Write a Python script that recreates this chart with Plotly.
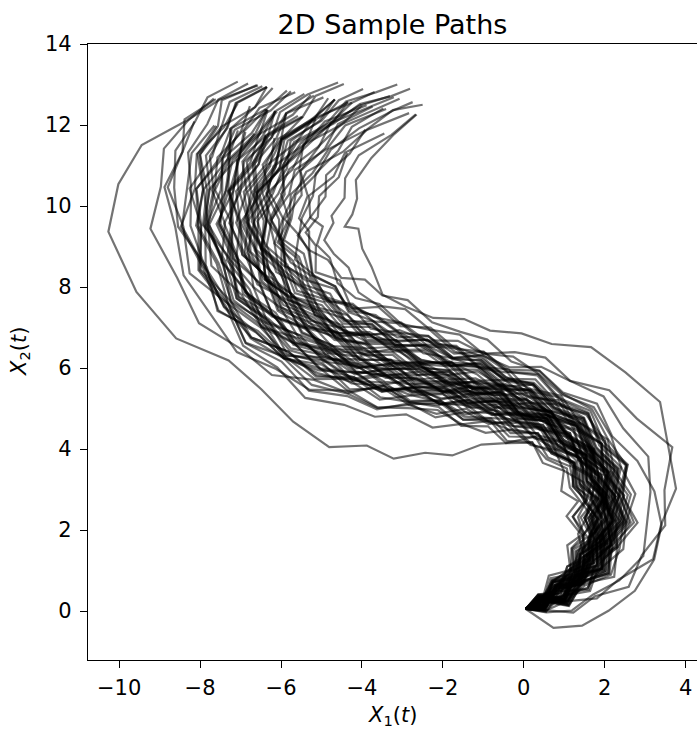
import plotly.graph_objects as go

# Mean route of the sample paths, with a lateral spread vector per station
center_x = [0.05, 0.45, 0.9, 1.35, 1.7, 1.95, 2.05, 2.05, 1.9, 1.6, 1.15, 0.6, 0.0, -0.6, -1.25, -1.9,
            -2.6, -3.3, -4.0, -4.7, -5.35, -5.95, -6.45, -6.8, -6.95, -6.9, -6.65, -6.25, -5.7, -5.05, -4.4, -3.75]
center_y = [0.05, 0.2, 0.45, 0.8, 1.2, 1.7, 2.25, 2.8, 3.35, 3.9, 4.4, 4.8, 5.1, 5.35, 5.55, 5.75,
            5.95, 6.15, 6.35, 6.65, 7.05, 7.55, 8.15, 8.85, 9.6, 10.35, 11.05, 11.7, 12.25, 12.7, 13.0, 13.2]
spread_x = [-0.35, -0.63, -0.83, -0.99, -1.16, -1.27, -1.29, -1.24, -1.12, -0.94, -0.74, -0.55, -0.42, -0.34, -0.29, -0.28,
            -0.27, -0.27, -0.33, -0.45, -0.58, -0.7, -0.83, -0.94, -0.99, -1.0, -0.98, -0.97, -0.98, -0.98, -0.95, -0.93]
spread_y = [0.94, 1.37, 1.25, 1.06, 0.78, 0.43, 0.12, -0.16, -0.44, -0.67, -0.81, -0.89, -0.91, -0.94, -0.96, -0.96,
            -0.96, -0.96, -0.94, -0.89, -0.81, -0.71, -0.55, -0.33, -0.07, 0.06, 0.16, 0.2, 0.2, 0.18, 0.25, 0.3]

# Lateral offset of each sample path at each station
path01 = [0, -0.05, 0.12, 0.18, 0.3, 0.36, 0.55, 0.4, 0.46, 0.3, 0.38, 0.55, 1.05, 1.32, 1.78, 1.92, 2.28, 2.15, 2.45, 2.22, 1.95, 1.92, 2.58, 2.95, 3.35, 3.12, 2.85, 2.12, 1.86, 1.55]
path02 = [0, -0.14, -0.17, -0.46, -0.55, -0.98, -1.04, -1.38, -1.5, -1.88, -1.84, -1.93, -1.64, -1.6, -1.43, -1.52, -1.34, -1.42, -1.55, -2.08, -2.34, -2.66, -2.44, -2.68, -2.74, -2.78, -2.55, -2.56, -2.52, -2.45]
path03 = [0, 0.09, 0.05, 0.21, 0.12, 0.28, 0.18, 0.45, 0.38, 0.65, 0.52, 0.79, 0.68, 1.01, 0.97, 1.27, 1.14, 1.41, 1.34, 1.56, 1.28, 1.41, 1.11, 1.32, 1.1, 1.2, 0.81, 0.92, 0.56, 0.72]
path04 = [0, -0.11, -0.07, -0.22, -0.18, -0.4, -0.37, -0.57, -0.45, -0.6, -0.78, -0.61, -0.84, -0.99, -0.84, -1.12, -1.04, -1.36, -1.26, -1.37, -1.76, -1.79, -1.83, -2.23, -2.22, -2.47, -2.28, -2.24, -2.48, -2.43]
path05 = [0, 0.04, 0.09, -0.02, 0.07, 0.16, 0.01, 0.08, 0.25, 0.08, 0.25, 0.12, 0.37, 0.3, 0.12, 0.33, 0.22, 0.38, 0.12, 0.11, 0.21, -0.09, 0.02, -0.2, -0.02, -0.24, -0.49, -0.29, -0.58]
path06 = [0, -0.09, -0.04, -0.01, -0.19, -0.1, -0.07, -0.24, -0.18, -0.05, -0.26, -0.1, -0.14, -0.25, 0.03, 0.11, -0.02, 0.18, 0.28, 0.15, 0.3, 0.61, 0.48, 0.69, 0.91, 0.77, 1.13, 1.13, 1.43, 1.32]
path07 = [0, 0.01, 0.15, 0.09, 0.27, 0.22, 0.41, 0.23, 0.39, 0.21, 0.42, 0.24, 0.44, 0.28, 0.48, 0.41, 0.65, 0.6, 0.78, 0.64, 1.0, 0.95, 1.32, 1.19, 1.54, 1.23, 1.46, 1.2, 1.4]
path08 = [0, 0.05, -0.16, -0.1, -0.27, -0.14, -0.26, -0.42, -0.23, -0.44, -0.54, -0.36, -0.59, -0.39, -0.58, -0.32, -0.26, -0.45, -0.27, -0.05, -0.19, 0.08, -0.15, 0.16, 0.31, 0.28, 0.41, 0.65]
path09 = [0, 0.1, -0.06, -0.02, 0.11, -0.09, 0.05, -0.16, 0.03, -0.07, -0.27, -0.1, -0.23, -0.16, -0.48, -0.51, -0.43, -0.75, -0.66, -0.97, -0.8, -0.96, -1.22, -0.93, -1.22, -1.26, -1.57, -1.53, -1.66, -1.87, -1.74]
path10 = [0, 0.07, 0.16, 0.01, 0.1, 0.26, 0.07, 0.29, 0.31, 0.21, 0.5, 0.58, 0.41, 0.62, 0.78, 0.61, 0.65, 0.97, 0.74, 0.87, 0.95, 0.65, 0.87, 0.7, 0.83, 0.46, 0.56, 0.31, 0.41]
path11 = [0, -0.06, 0.05, -0.1, -0.01, -0.16, 0, -0.12, 0.11, -0.07, 0.15, 0, 0.26, 0.17, 0.42, 0.23, 0.45, 0.27, 0.66, 0.51, 0.76, 0.6, 0.93, 0.79, 1.12, 1.03, 1.44, 1.39]
path12 = [0, -0.03, 0.22, 0.22, 0.18, 0.48, 0.39, 0.33, 0.56, 0.37, 0.52, 0.29, 0.47, 0.49, 0.21, 0.35, 0.38, 0.11, 0.23, -0.1, 0, 0.06, -0.27, -0.32, -0.28, -0.7, -0.71, -0.94, -0.97, -1.31, -1.25]
path13 = [0, -0.17, -0.35, -0.37, -0.57, -0.79, -0.77, -0.87, -1.05, -0.91, -1.11, -0.99, -1.27, -1.11, -0.84, -0.96, -0.76, -0.82, -0.48, -0.6, -0.84, -0.66, -0.9, -0.68, -1.0, -1.23, -1.3, -1.83, -1.86, -2.26]
path14 = [0, 0.08, 0.01, -0.02, 0.15, 0.04, 0, 0.14, 0.04, -0.12, 0.06, -0.13, -0.13, -0.03, -0.31, -0.39, -0.21, -0.42, -0.57, -0.24, -0.17, -0.28, -0.05, -0.04, 0.1, 0.37, 0.41, 0.69, 0.69]
path15 = [0, -0.09, 0.08, -0.09, 0.07, -0.16, 0.01, -0.18, 0.05, -0.09, 0.12, -0.11, 0.06, -0.07, 0.25, 0.07, 0.29, 0.05, 0.36, 0.43, 0.93, 0.89, 1.35, 1.1, 1.61, 1.74, 2.0, 1.93, 2.16, 2.06]
path16 = [0, 0.15, 0.03, 0, 0.26, 0.11, 0.3, 0.06, 0.22, 0.27, 0.01, 0.15, 0.25, -0.04, 0.08, -0.21, -0.05, 0.01, -0.32, -0.38, -0.33, -0.62, -0.48, -0.68, -0.66, -0.94, -0.73, -0.76, -0.88, -0.67, -0.78, -0.67]
path17 = [0, -0.15, -0.06, -0.29, -0.12, -0.24, -0.46, -0.26, -0.36, -0.21, -0.46, -0.4, -0.24, -0.57, -0.47, -0.78, -0.61, -0.77, -1.02, -0.86, -1.19, -1.03, -1.36, -1.33, -1.48, -1.69, -1.54, -1.71, -1.48, -1.61]
path18 = [0, 0.04, 0.22, 0.05, 0.26, 0.27, 0.16, 0.46, 0.54, 0.38, 0.59, 0.76, 0.59, 0.7, 0.98, 0.82, 0.98, 1.17, 0.97, 1.33, 1.33, 1.63, 1.53, 1.71, 1.68, 1.98, 1.82, 1.95]
path19 = [0, -0.1, 0.08, -0.12, 0.1, -0.05, 0.14, -0.04, 0.18, 0.07, 0.4, 0.23, 0.47, 0.17, 0.37, 0.09, 0.35, -0.06, 0.16, -0.25, -0.07, -0.35, -0.2, -0.43, -0.37, -0.83, -0.87, -1.2, -1.2, -1.5, -1.4]
path20 = [0, -0.09, 0.03, -0.23, -0.08, -0.06, -0.32, -0.23, -0.15, -0.43, -0.31, -0.58, -0.42, -0.45, -0.76, -0.8, -0.74, -1.01, -0.96, -1.01, -0.85, -1.01, -0.83, -0.81, -0.91, -0.54, -0.52, -0.26, -0.24, 0.1, 0.05]
path21 = [0, 0.06, -0.09, 0.15, 0.07, 0.25, 0.03, 0.07, 0.22, -0.04, 0.11, -0.13, 0.1, 0.09, -0.02, 0.34, 0.19, 0.41, 0.27, 0.44, 0.44, 0.36, 0.49, 0.32, 0.55, 0.55, 0.83, 0.76, 1.09]
path22 = [0, 0.01, -0.15, 0.07, 0.09, -0.15, 0, 0.18, 0.04, 0.16, 0.46, 0.31, 0.5, 0.74, 0.58, 0.92, 0.9, 1.18, 1.05, 1.2, 1.0, 1.15, 1.02, 1.13, 0.93, 0.88, 0.49, 0.42]
path23 = [0, 0.04, 0.24, 0.19, 0.45, 0.38, 0.65, 0.43, 0.61, 0.41, 0.63, 0.48, 0.67, 0.4, 0.54, 0.33, 0.57, 0.34, 0.47, 0.17, 0.37, 0.09, 0.28, 0, 0.16, -0.05, 0.31, 0.2, 0.45, 0.38]
path24 = [0, -0.13, -0.39, -0.41, -0.77, -0.76, -1.12, -1.15, -1.58, -1.27, -1.3, -0.99, -1.02, -0.71, -0.79, -0.51, -0.65, -0.38, -0.5, -0.2, -0.31, -0.09, -0.31, -0.05, -0.16, 0.02, -0.27, -0.19, -0.51, -0.39]
path25 = [0, -0.03, 0.13, 0.22, 0.09, 0.17, 0.35, 0.06, 0.14, -0.15, -0.06, -0.07, -0.37, -0.28, -0.56, -0.4, -0.56, -0.7, -0.52, -0.74, -0.53, -0.66, -0.4, -0.48, -0.23, -0.26, 0.05, -0.02, 0.33, 0.3, 0.2]
path26 = [0, 0.03, -0.12, -0.04, 0.01, -0.18, -0.09, -0.18, 0.07, 0.07, 0.22, 0.05, 0.28, 0.43, 0.26, 0.52, 0.47, 0.7, 0.67, 0.93, 0.8, 1.12, 1.16, 1.14, 1.3, 1.32, 1.68, 1.62, 1.89, 1.8]
path27 = [0, -0.02, 0.08, -0.04, 0.06, 0.12, -0.07, 0.01, -0.24, -0.09, -0.32, -0.27, -0.55, -0.45, -0.71, -0.68, -1.03, -0.98, -1.31, -1.21, -1.29, -1.65, -1.61, -1.95, -1.69, -2.0, -1.8, -2.01, -1.82]
path28 = [0, 0.01, -0.13, -0.07, -0.3, -0.2, -0.21, -0.35, -0.09, -0.14, 0.08, -0.05, 0.24, 0.11, 0.32, 0.15, 0.37, 0.51, 0.34, 0.4, 0.06, 0.19, -0.1, 0.04, -0.29, -0.31, -0.67, -0.66, -1.03, -1.02, -1.17, -1.01]
path29 = [0, 0.1, 0.05, 0.28, 0.19, 0.38, 0.25, 0.52, 0.68, 0.57, 0.8, 0.72, 1.05, 0.84, 1.02, 0.74, 0.83, 0.91, 0.61, 0.76, 0.55, 0.69, 0.39, 0.57, 0.28, 0.38, 0.05, 0.11]
path30 = [0, 0.06, -0.07, -0.01, 0.04, -0.17, -0.03, 0.02, -0.16, -0.06, -0.22, -0.01, -0.06, -0.18, 0.07, -0.08, -0.02, 0.17, -0.02, 0.26, 0.1, 0.39, 0.52, 0.38, 0.58, 0.47, 0.62, 0.35, 0.45]
path31 = [0, -0.03, 0.12, 0.03, -0.01, 0.18, 0.15, 0.01, 0.21, 0.13, 0.29, 0.09, 0.29, 0.02, 0.15, 0.13, -0.15, -0.05, -0.01, -0.39, -0.39, -0.73, -0.66, -0.89, -1.18, -1.14, -1.46, -1.47, -1.85, -1.85, -2.0]
path32 = [0, 0.01, -0.18, -0.16, -0.39, -0.33, -0.32, -0.48, -0.3, -0.5, -0.31, -0.24, -0.4, -0.1, -0.2, 0.04, -0.1, 0.2, 0.33, 0.23, 0.55, 0.49, 0.73, 0.52, 0.85, 0.74, 0.94, 0.72, 0.85, 0.61]
path33 = [0, -0.03, 0.11, 0.18, 0.06, 0.27, 0.17, 0.17, 0.47, 0.37, 0.58, 0.46, 0.71, 0.73, 0.49, 0.66, 0.52, 0.73, 0.48, 0.8, 1.01, 0.94, 1.15, 1.15, 1.51, 1.43, 1.59, 1.44]
path34 = [0, 0.01, -0.17, -0.08, -0.08, -0.29, -0.17, -0.23, -0.56, -0.51, -0.72, -0.64, -0.91, -0.86, -1.2, -1.19, -1.23, -1.59, -1.53, -1.72, -1.45, -1.58, -1.38, -1.59, -1.41, -1.56, -1.15, -1.22, -0.95, -1.06]
path35 = [0, 0.05, 0.1, -0.02, 0.15, -0.02, 0.1, 0.22, 0.05, 0.26, 0.12, 0.37, 0.28, 0.55, 0.42, 0.69, 0.84, 0.61, 1.03, 1.06, 1.51, 1.51, 1.9, 1.88, 2.3, 2.07, 2.29, 2.1, 2.0]
path36 = [0, -0.05, 0.05, -0.11, 0.03, 0.07, -0.1, 0.05, -0.15, 0, 0.08, -0.15, 0.01, -0.26, -0.11, -0.33, -0.25, -0.55, -0.44, -0.34, -0.46, -0.18, -0.3, -0.16, -0.29, -0.07, -0.35, -0.27, -0.48, -0.39]
path37 = [0, 0.15, -0.02, 0.18, -0.03, 0.23, 0.07, 0.32, 0.05, 0.24, 0.01, 0.29, 0.07, 0.25, 0.06, 0.07, -0.11, 0.0, -0.28, -0.11, -0.39, -0.19, -0.52, -0.32, -0.6, -0.3, -0.53, -0.28, -0.52]
path38 = [0, -0.12, 0.09, -0.14, 0.03, -0.26, -0.03, -0.25, -0.06, -0.35, -0.16, -0.45, -0.2, -0.38, -0.14, -0.4, -0.16, -0.34, 0.01, -0.25, 0.05, -0.17, 0.16, 0.1, 0.33, 0.15, 0.45, 0.29, 0.64]
path39 = [0, 0.14, -0.01, 0.28, 0.12, 0.39, 0.18, 0.41, 0.17, 0.47, 0.26, 0.51, 0.24, 0.52, 0.35, 0.67, 0.46, 0.73, 0.5, 0.74, 0.55, 0.76, 0.49, 0.71, 0.44, 0.81, 0.68, 1.0]
path40 = [0, 0.06, -0.2, -0.07, -0.34, -0.13, -0.39, -0.15, -0.4, -0.19, -0.44, -0.15, -0.37, -0.25, -0.51, -0.34, -0.65, -0.43, -0.76, -0.61, -0.97, -0.72, -1.02, -0.76, -1.15, -0.9, -1.12, -0.83, -1.0, -0.71]
path41 = [0, -0.07, 0.13, -0.08, 0.15, -0.08, 0.12, -0.08, 0.21, 0.02, 0.3, 0.06, 0.31, 0.16, 0.44, 0.27, 0.55, 0.34, 0.7, 0.53, 0.9, 0.78, 1.03, 0.84, 1.16, 1.02, 1.38, 1.26, 1.6, 1.44]
path42 = [0, 0.12, -0.11, 0.08, -0.2, 0.04, -0.19, 0.1, -0.11, 0.14, -0.09, 0.17, -0.02, 0.2, -0.09, 0.09, -0.19, 0.05, -0.25, -0.1, -0.45, -0.31, -0.57, -0.38, -0.6, -0.55, -0.95, -0.86, -1.22, -1.09, -1.15]
path43 = [0, -0.03, 0.25, 0.11, 0.41, 0.2, 0.5, 0.22, 0.46, 0.21, 0.41, 0.13, 0.34, 0.02, 0.17, -0.15, 0.04, -0.25, -0.07, -0.46, -0.32, -0.68, -0.55, -0.87, -0.71, -1.1, -1.01, -1.43, -1.31, -1.68]
path44 = [0, 0.03, -0.26, -0.09, -0.36, -0.18, -0.52, -0.32, -0.58, -0.34, -0.59, -0.39, -0.68, -0.41, -0.61, -0.31, -0.53, -0.3, -0.52, -0.14, -0.25, -0.01, -0.16, 0.17, 0.05, 0.41, 0.11, 0.31, 0.01, 0.22]
path45 = [0, -0.1, 0.13, -0.09, 0.19, -0.01, 0.25, 0.05, 0.36, 0.19, 0.49, 0.3, 0.58, 0.4, 0.73, 0.58, 0.82, 0.62, 0.99, 0.74, 0.99, 0.73, 0.96, 0.67, 0.89, 0.59, 0.8, 0.49, 0.66]
path46 = [0, 0.09, -0.21, 0, -0.24, -0.04, -0.35, -0.15, -0.45, -0.28, -0.61, -0.48, -0.79, -0.59, -0.89, -0.75, -1.09, -0.92, -1.23, -0.91, -1.13, -0.86, -1.08, -0.84, -1.02, -0.63, -0.81, -0.5, -0.68, -0.38]
path47 = [0, 0.1, -0.12, 0.14, -0.09, 0.11, -0.14, 0.07, -0.18, 0.07, -0.21, -0.01, -0.31, 0.02, -0.13, 0.21, 0.04, 0.35, 0.14, 0.5, 0.39, 0.76, 0.63, 0.98, 0.86, 1.01, 0.68, 0.84]
path48 = [0, -0.07, 0.21, 0.02, 0.27, 0.05, 0.33, 0.18, 0.52, 0.34, 0.63, 0.46, 0.78, 0.49, 0.67, 0.39, 0.6, 0.37, 0.46, 0.09, 0.24, -0.1, 0.07, -0.18, 0.05, -0.42, -0.3, -0.65, -0.49, -0.82, -0.75]
path49 = [0, 0.05, -0.25, -0.11, -0.46, -0.28, -0.59, -0.31, -0.56, -0.32, -0.57, -0.33, -0.54, -0.2, -0.38, -0.08, -0.21, 0.04, -0.12, 0.22, 0.06, 0.36, 0.09, 0.42, 0.27, 0.73, 0.63, 1.03, 0.96, 1.33]
path50 = [0, -0.07, 0.16, -0.06, 0.19, -0.01, 0.27, 0, 0.2, -0.11, 0.1, -0.14, 0.09, -0.23, -0.08, -0.42, -0.18, -0.56, -0.36, -0.76, -0.81, -1.07, -0.96, -1.32, -1.05, -1.41, -1.15, -1.38, -1.13, -1.34]
path51 = [0, 0.12, -0.13, 0.07, -0.2, 0.02, -0.25, 0.08, -0.02, 0.23, 0.05, 0.34, 0.11, 0.35, 0.13, 0.38, 0.12, 0.34, 0.08, 0.31, 0.08, 0.36, 0.11, 0.32, 0.06, 0.21, -0.1, 0.08, -0.25]
path52 = [0, -0.08, 0.2, 0.03, 0.31, 0.1, 0.36, 0.09, 0.31, 0.06, 0.27, -0.03, 0.15, -0.06, 0.21, -0.03, 0.25, 0.05, 0.38, 0.2, 0.51, 0.35, 0.71, 0.48, 0.99, 0.93, 1.38, 1.35, 1.8, 1.58]
path53 = [0, 0.06, -0.23, -0.01, -0.27, -0.09, -0.37, -0.09, -0.33, -0.09, -0.3, -0.02, -0.12, 0.2, 0.02, 0.36, 0.23, 0.58, 0.32, 0.55, 0.31, 0.56, 0.28, 0.5, 0.24, 0.36, 0, 0.13, -0.22]
path54 = [0, -0.12, 0.12, -0.09, 0.19, -0.04, 0.19, -0.17, 0, -0.34, -0.2, -0.53, -0.36, -0.66, -0.49, -0.83, -0.66, -0.99, -0.85, -1.05, -0.74, -0.91, -0.67, -0.88, -0.61, -0.62, -0.2, -0.26, 0.18, 0.14]
path55 = [0, 0.11, -0.14, 0.08, -0.14, 0.12, -0.13, 0.16, -0.02, 0.26, 0.05, 0.36, 0.2, 0.53, 0.36, 0.66, 0.45, 0.77, 0.61, 0.97, 0.8, 1.12, 0.94, 1.26, 1.04, 1.36, 1.07, 1.27, 0.96, 1.18]
path56 = [0, -0.07, 0.21, -0.01, 0.25, 0.04, 0.3, 0.04, 0.3, 0.07, 0.31, 0.05, 0.26, -0.13, 0.04, -0.19, -0.07, -0.39, -0.14, -0.38, -0.14, -0.36, -0.1, -0.33, -0.07, -0.16, 0.2, 0.08, 0.46]
path57 = [0, 0.09, -0.16, 0.06, -0.23, -0.04, -0.31, -0.1, -0.38, -0.15, -0.44, -0.26, -0.56, -0.38, -0.67, -0.48, -0.78, -0.52, -0.86, -0.82, -1.19, -1.05, -1.39, -1.29, -1.69, -1.59, -1.99, -1.89, -2.3]
path58 = [0, -0.07, 0.22, 0.07, 0.36, 0.16, 0.43, 0.26, 0.59, 0.49, 0.75, 0.57, 0.87, 0.63, 0.86, 0.63, 0.89, 0.68, 0.93, 0.6, 0.86, 0.52, 0.78, 0.43, 0.65, 0.28, 0.44, 0.12]
path59 = [0, 0.08, -0.15, 0.09, -0.17, 0.05, -0.25, 0.02, -0.2, 0.02, -0.21, 0.06, -0.03, 0.34, 0.19, 0.55, 0.42, 0.76, 0.65, 1.04, 0.95, 1.31, 1.03, 1.55, 1.48, 1.9, 1.82, 2.2, 1.95]
path60 = [0, -0.13, 0.14, -0.07, 0.18, -0.06, 0.22, -0.03, 0.18, -0.04, 0.22, -0.02, 0.21, -0.04, 0.16, -0.08, 0.12, -0.19, 0.04, -0.21, 0, -0.26, -0.08, -0.35, -0.1, -0.32, 0, -0.14, 0.17]
path61 = [0, 0.05, -0.24, -0.07, -0.34, -0.14, -0.43, -0.26, -0.6, -0.4, -0.67, -0.51, -0.83, -0.59, -0.81, -0.53, -0.78, -0.55, -0.71, -0.41, -0.62, -0.31, -0.47, -0.2, -0.39, -0.3, -0.69, -0.59, -0.95, -0.82]
path62 = [0, -0.02, 0.29, 0.11, 0.44, 0.3, 0.65, 0.4, 0.62, 0.38, 0.59, 0.34, 0.6, 0.35, 0.52, 0.25, 0.45, 0.17, 0.54, 0.38, 0.7, 0.54, 0.78, 0.62, 0.96, 0.86, 1.23, 1.11, 1.45, 1.33]
path63 = [0, 0.12, -0.13, 0.06, -0.19, 0.06, -0.17, 0.03, -0.29, -0.12, -0.4, -0.21, -0.52, -0.35, -0.66, -0.52, -0.88, -0.75, -0.98, -0.96, -1.38, -1.15, -1.58, -1.5, -1.88, -1.84, -2.12, -1.94]
path64 = [0, 0.12, -0.09, 0.19, -0.01, 0.25, 0.01, 0.31, 0.12, 0.43, 0.28, 0.61, 0.43, 0.78, 0.66, 1.01, 0.86, 1.22, 1.11, 1.36, 1.1, 1.32, 1.04, 1.29, 1.03, 1.19, 0.88, 1.03, 0.69, 0.82]
path65 = [0, -0.16, 0.02, -0.26, -0.03, -0.29, -0.1, -0.34, -0.07, -0.34, -0.12, -0.35, -0.04, -0.22, 0.06, -0.17, 0.13, -0.05, 0.15, -0.15, 0.07, -0.24, -0.07, -0.38, -0.12, -0.57, -0.47, -0.86, -0.8, -1.19]
path66 = [0, 0.15, -0.11, 0.12, -0.11, 0.14, -0.12, 0.11, -0.15, 0.04, -0.24, -0.03, -0.33, -0.19, -0.5, -0.32, -0.61, -0.44, -0.78, -0.5, -0.71, -0.42, -0.65, -0.35, -0.53, -0.19, -0.39, -0.09]
path67 = [0, 0.01, 0.34, 0.2, 0.54, 0.41, 0.77, 0.57, 0.87, 0.65, 0.92, 0.71, 0.99, 0.69, 0.86, 0.57, 0.79, 0.53, 0.71, 0.34, 0.59, 0.32, 0.59, 0.29, 0.46, 0.1, 0.27, -0.02, 0.18, -0.1]
path68 = [0, -0.45, -0.65, -0.75, -0.9, -1.0, -1.05, -0.95, -0.81, -0.62, -0.89, -0.67, -0.92, -0.64, -0.88, -0.63, -0.87, -0.63, -0.85, -0.56, -0.79, -0.5, -0.73, -0.47, -0.73, -0.44, -0.63, -0.34, -0.53, -0.22]
path69 = [0, 0.1, -0.12, 0.15, -0.1, 0.13, -0.14, 0.11, -0.13, 0.16, -0.12, 0.1, -0.15, 0.13, -0.11, 0.15, -0.13, 0.1, -0.16, 0.12, -0.1, 0.15, -0.12, 0.11, -0.14, 0.13, -0.1, 0.15, -0.12]
path70 = [0, -0.1, 0.16, -0.04, 0.25, 0.04, 0.29, 0.04, 0.31, 0.09, 0.34, 0.11, 0.39, 0.19, 0.45, 0.2, 0.44, 0.21, 0.5, 0.28, 0.53, 0.26, 0.52, 0.31, 0.6, 0.4, 0.65, 0.4, 0.66]
path71 = [0, 0.08, -0.2, 0.04, -0.21, -0.01, -0.29, -0.04, -0.3, -0.1, -0.38, -0.15, -0.4, -0.14, -0.43, -0.22, -0.48, -0.27, -0.52, -0.25, -0.51, -0.3, -0.57, -0.33, -0.59, -0.36, -0.63, -0.43, -0.72, -0.49, -0.45]
path72 = [0, -0.05, 0.24, 0.07, 0.34, 0.14, 0.43, 0.17, 0.41, 0.12, 0.31, 0.04, 0.25, -0.1, 0.03, -0.3, -0.15, -0.5, -0.32, -0.63, -0.48, -0.84, -0.69, -0.91, -0.72, -0.99, -0.7, -0.87, -0.56, -0.72]

x_ticks = [-10, -8, -6, -4, -2, 0, 2, 4]
y_ticks = [0, 2, 4, 6, 8, 10, 12, 14]

paths = [path01, path02, path03, path04, path05, path06, path07, path08, path09, path10,
         path11, path12, path13, path14, path15, path16, path17, path18, path19, path20,
         path21, path22, path23, path24, path25, path26, path27, path28, path29, path30,
         path31, path32, path33, path34, path35, path36, path37, path38, path39, path40,
         path41, path42, path43, path44, path45, path46, path47, path48, path49, path50,
         path51, path52, path53, path54, path55, path56, path57, path58, path59, path60,
         path61, path62, path63, path64, path65, path66, path67, path68, path69, path70,
         path71, path72]

fig = go.Figure()
for off in paths:
    xs = [center_x[i] + o * spread_x[i] for i, o in enumerate(off)]
    ys = [center_y[i] + o * spread_y[i] for i, o in enumerate(off)]
    fig.add_trace(go.Scatter(x=xs, y=ys, mode="lines",
                             line=dict(color="rgba(0,0,0,0.55)", width=2.2),
                             hoverinfo="skip", showlegend=False))

font_family = "DejaVu Sans"
axis_common = dict(
    showgrid=False, zeroline=False, showline=True, linecolor="black", linewidth=1.3,
    mirror=True, ticks="outside", ticklen=7, tickwidth=1.3, tickcolor="black",
    tickfont=dict(family=font_family, size=21, color="black"),
    automargin=False,
)

fig.update_layout(
    width=697, height=729,
    margin=dict(l=88, r=0, t=44, b=69),
    paper_bgcolor="white", plot_bgcolor="white",
    title=dict(text="2D Sample Paths", x=0.5, xref="paper", y=1 - 25 / 729, yref="container",
               xanchor="center", yanchor="middle",
               font=dict(family=font_family, size=27, color="black")),
    xaxis=dict(range=[-10.77, 4.28], tickvals=x_ticks, ticklabelstandoff=2, **axis_common),
    yaxis=dict(range=[-1.21, 14.0], tickvals=y_ticks, ticklabelstandoff=4, **axis_common),
    annotations=[
        dict(text="<i>X</i><sub>1</sub>(<i>t</i>)", xref="paper", yref="paper",
             x=0.5, y=(660 - 716) / 616, xanchor="center", yanchor="middle", showarrow=False,
             font=dict(family=font_family, size=21, color="black")),
        dict(text="<i>X</i><sub>2</sub>(<i>t</i>)", xref="paper", yref="paper",
             x=(20 - 88) / 609, y=0.5, xanchor="center", yanchor="middle", showarrow=False,
             textangle=-90, font=dict(family=font_family, size=21, color="black")),
    ],
)

fig.write_html("out.html", config={"displayModeBar": False},
               post_script="document.body.style.margin='0';document.body.style.overflow='hidden';")
